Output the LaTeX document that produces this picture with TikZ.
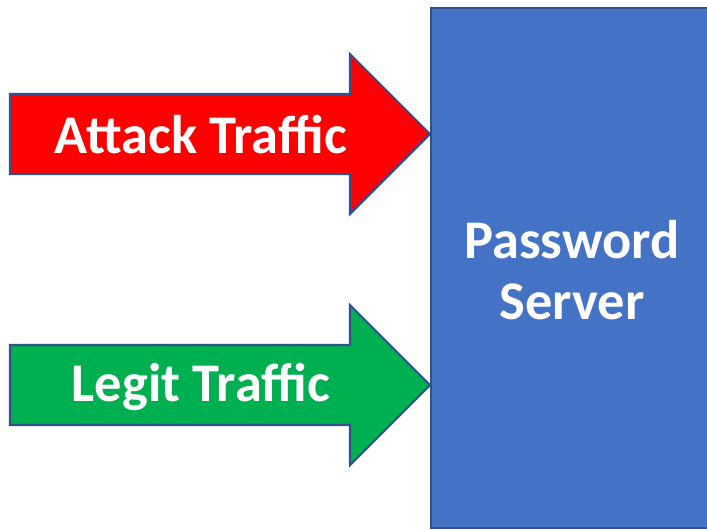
\documentclass[tikz,border=0pt]{standalone}
\usepackage{fontspec}
\setmainfont{Carlito}
\definecolor{srvblue}{HTML}{4472C4}
\definecolor{edgeblue}{HTML}{2F528F}
\definecolor{attackred}{HTML}{FF0000}
\definecolor{legitgreen}{HTML}{00B050}
\tikzset{
  flow/.style={draw=edgeblue, line width=1.2pt, line join=miter},
  flowtext/.style={text=white, font=\bfseries\fontsize{31}{35}\selectfont}
}
\begin{document}
\begin{tikzpicture}[x=0.02cm, y=-0.02cm]
                        \useasboundingbox (0,0) rectangle (707,529);

                        % Server box
                        \node[flow, fill=srvblue, anchor=north west, minimum width=290*0.02cm,
                              minimum height=520*0.02cm, inner sep=0pt] (server) at (430,7) {};
                        \node[flowtext, align=center] (serverlabel) at (572,270) {Password\\Server};

                        % Attack arrow
                        \draw[flow, fill=attackred] (10,94) -- (350,94) -- (350,54) -- (430,134)
                              -- (350,214) -- (350,174) -- (10,174) -- cycle;
                        \node[flowtext] (attack) at (201,135) {Attack Traffic};

                        % Legit arrow
                        \draw[flow, fill=legitgreen] (10,345) -- (350,345) -- (350,305) -- (430,385)
                              -- (350,465) -- (350,425) -- (10,425) -- cycle;
                        \node[flowtext] (legit) at (201,387) {Legit Traffic};
\end{tikzpicture}
\end{document}
